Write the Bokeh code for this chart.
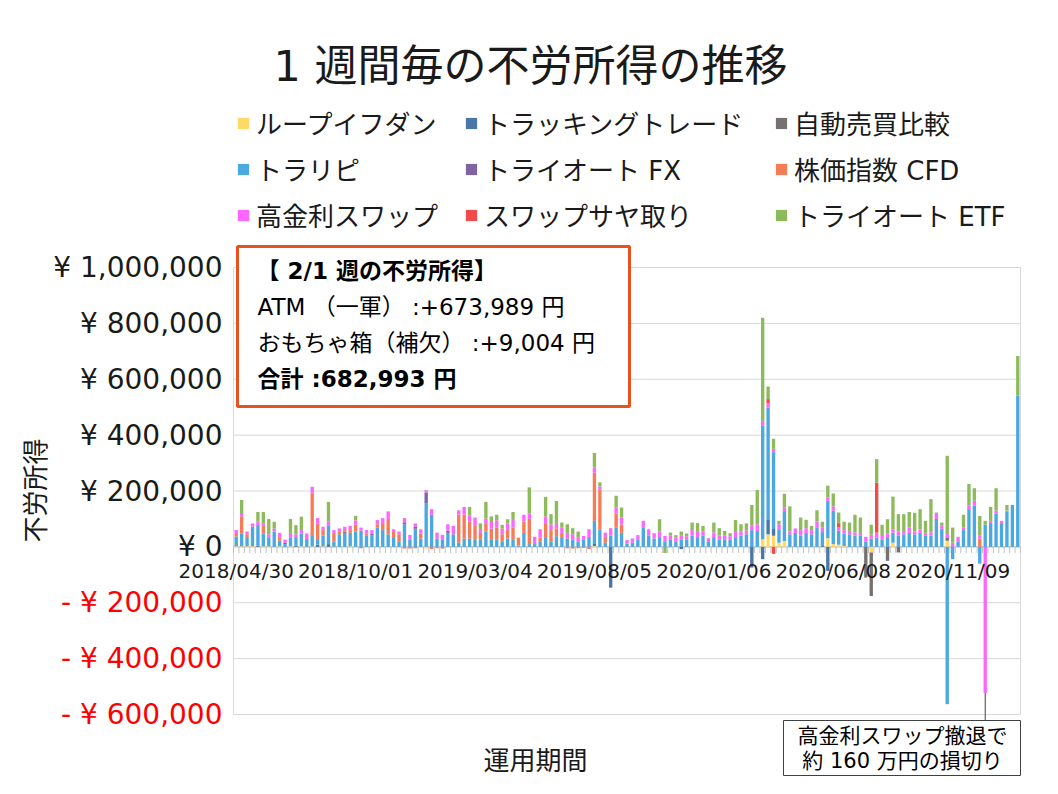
import numpy as np
from bokeh.plotting import figure
from bokeh.models import (ColumnDataSource, Range1d, Legend, LegendItem,
                          Label, BoxAnnotation, Arrow)
from bokeh.embed import file_html
from bokeh.resources import INLINE

# ---------------- data (weekly income, thousand yen) ----------------
week_tick_idx = [0, 22, 44, 66, 88, 110, 132]
week_tick_labels = ["2018/04/30", "2018/10/01", "2019/03/04", "2019/08/05",
                    "2020/01/06", "2020/06/08", "2020/11/09"]

loop_ifdone = [
    2, 2, 2, 2, 0, 2, 2, 0, 2, 0,
    2, 0, 2, 0, 2, 0, 2, 0, -4, 0,
    0, 2, 0, 0, 0, 0, 0, 0, 0, 0,
    0, 0, 0, 0, 0, -6, 0, 0, 0, 0,
    0, 0, 0, 0, 0, 0, 0, 0, 0, 0,
    0, 0, 0, 0, 0, 0, 0, 0, 0, 0,
    0, 0, 0, 0, 0, 0, 3, 0, 0, 0,
    0, 0, 0, 0, 0, 0, 0, 0, 0, 0,
    0, 0, 0, 0, 0, 0, 0, 0, 0, 0,
    0, 0, 0, 0, 0, 0, 0, 27, 45, 40,
    15, 21, 0, 0, 0, 0, 0, 0, 0, 31,
    10, 8, 3, 0, 0, 0, 0, -20, 0, 0,
    0, 15, 0, 0, 0, 0, 0, 0, 0, 0,
    0, 22, 0, 0, 0, 0, 0, 0, 0, 0,
    0, 0, 0, 0, 0]

tracking = [
    0, 0, 0, 0, 5, 0, 0, 0, 0, 0,
    0, 5, 0, 0, 0, 8, 0, 10, 0, 0,
    0, 0, 0, 0, 0, 0, 0, 0, 0, 0,
    0, 0, 0, 0, 0, 0, 0, 0, 0, 0,
    0, 0, 0, 0, 0, 0, 0, 0, 0, 0,
    0, 0, 0, 0, 0, 0, 0, 0, 0, 0,
    0, 0, 0, 0, 0, 0, 10, 0, 0, -146,
    0, 0, 0, 0, 0, 0, 0, 0, 0, 0,
    0, 0, -8, 0, 0, 0, 0, 0, 0, 0,
    0, 0, 0, 0, 0, -74, 0, -44, 54, 24,
    0, 0, 0, 0, 0, 0, 0, 0, 0, -86,
    0, 0, 0, 0, 0, 0, 0, 0, 0, 0,
    0, 0, 0, 0, 0, 0, 0, 0, 0, 0,
    0, 0, 0, 0, 0, 0, 0, 0, 0, 0,
    0, 0, 0, 0, 0]

jidou_hikaku = [
    0, 0, 0, 0, 0, 0, 0, 0, 0, 0,
    0, 0, 0, 0, 0, 0, 0, 0, 0, 0,
    0, 0, 0, 0, 0, 0, 0, 0, 0, 0,
    0, 0, 0, 0, 0, 0, 0, 0, 0, 0,
    0, 0, 0, 0, 0, 0, 0, 0, 0, 0,
    0, 0, 0, 0, 0, 0, 0, 0, 0, 0,
    0, 0, 0, 0, 0, 0, 0, 0, 0, 0,
    0, 0, 0, 0, 0, 0, 0, 0, 0, 0,
    0, 0, 0, 0, 0, 0, 0, 0, 0, 0,
    0, 0, 0, 0, 0, 0, 0, 0, 0, 0,
    0, 0, 0, 0, 0, 0, 0, 0, 3, 0,
    0, 0, 0, 0, 0, 0, -110, -156, 0, 0,
    -50, 0, -20, 0, 0, 0, 0, 0, 0, 0,
    0, 12, 0, 0, 0, 0, 0, 0, 0, 0,
    0, 0, 0, 0, 0]

toraripi = [
    35, 45, 30, 70, 73, 45, 30, 55, 20, 10,
    30, 30, 45, 28, 40, 20, 38, 65, 20, 45,
    50, 48, 55, 58, 40, 42, 70, 60, 45, 35,
    20, 80, 25, 65, 30, 155, 115, 30, 25, 50,
    45, 15, 30, 30, 25, 25, 55, 25, 25, 20,
    30, 25, 5, 50, 10, 10, 20, 35, 20, 38,
    35, 30, 25, 20, 25, 35, 80, 63, 15, 40,
    70, 50, 12, 15, 25, 70, 40, 30, 35, 20,
    25, 20, 25, 25, 40, 35, 40, 18, 35, 25,
    25, 25, 35, 40, 45, 60, 57, 406, 400, 275,
    48, 107, 45, 50, 40, 50, 45, 70, 50, 134,
    120, 50, 45, 45, 40, 40, 20, 30, 33, 25,
    35, 36, 40, 45, 50, 45, 50, 40, 40, 100,
    65, -563, -44, 20, 60, 135, 147, -60, 80, 85,
    120, 85, 125, 150, 541]

triauto_fx = [
    0, 0, 0, 0, 0, 0, 0, 0, 0, 4,
    0, 0, 0, 0, 0, 0, 0, 0, 0, 0,
    5, 0, 0, 0, 0, 5, 0, 0, 0, 0,
    0, 8, 0, 8, 0, 40, 0, 0, 0, 8,
    0, 0, 0, 0, 0, 0, 0, 0, 0, 0,
    0, 0, 0, 0, 0, 0, 0, 0, 0, 0,
    0, 0, 0, 0, 0, 0, 0, 0, 0, 0,
    0, 0, 0, 0, 0, 0, 0, 0, 0, 0,
    0, 0, 0, 0, 0, 0, 0, 0, 0, 0,
    0, 0, 0, 0, 0, 0, 0, 0, 0, 0,
    0, 0, 0, 0, 0, 0, 0, 0, 0, 0,
    0, 0, 0, 0, 0, 0, 0, 0, 0, 0,
    0, 0, 0, 0, 0, 0, 0, 0, 0, 0,
    0, 0, 0, 0, 0, 0, 0, 0, 0, 0,
    0, 0, 0, 0, 0]

kabuka_cfd = [
    13, 63, 13, 0, 0, 28, 0, 0, 10, 0,
    0, 0, 0, 0, 150, 55, 20, 0, 30, 9,
    5, 10, 25, -5, 8, 0, 11, 25, 55, 18,
    25, -6, -6, -5, 18, 0, -8, -5, -6, 0,
    0, 100, 85, 60, 50, 25, 30, 40, 45, 25,
    30, 45, 28, 40, 90, 0, 13, 50, 40, 28,
    15, -5, -6, -5, -4, -8, 173, 140, 20, 0,
    50, 30, 0, 0, 0, 0, 0, 0, 0, 0,
    0, 0, 0, 0, 0, 0, 0, 0, 0, 0,
    0, 0, 0, 0, 0, 0, 0, 0, 0, 0,
    0, 0, 0, 0, 0, 0, 0, 0, 0, 0,
    0, 0, 0, 0, 0, 0, 0, 0, 0, 0,
    0, 0, 0, 0, 0, 0, 0, 0, 0, 0,
    0, 0, 0, 0, 0, 0, 0, 30, 0, 0,
    0, 0, 0, 0, 0]

swap = [
    10, 8, 10, 12, 12, 10, 13, 10, 18, 12,
    18, 10, 13, 20, 23, 20, 12, 15, 10, 12,
    12, 15, 15, 11, 12, 13, 15, 18, 27, 10,
    10, 15, 18, 11, 15, 8, 20, 21, 18, 23,
    30, 16, 28, 23, 30, 14, 16, 24, 25, 20,
    24, 30, 0, 25, 20, 26, 30, 24, 20, 20,
    20, 20, 20, 15, 14, 28, 18, 13, 16, 27,
    20, 25, 12, 15, 17, 23, 23, 19, 20, 19,
    16, 15, 15, 13, 20, 22, 15, 13, 17, 15,
    15, 13, 18, 16, 14, 18, 24, 18, 15, 12,
    18, 14, 10, 16, 20, 17, 15, 20, 17, 12,
    15, 12, 12, 12, 12, 10, 16, 14, 18, 14,
    14, 12, 15, 12, 20, 10, 12, 10, 12, 18,
    12, 12, 15, 16, 10, 14, 18, 10, -523, 8,
    10, 8, 5, 0, 0]

swap_sayatori = [
    0, 0, 0, 0, 0, 0, 0, 0, 0, 0,
    0, 0, 0, 0, 0, 0, 0, 0, 0, 0,
    0, 0, 0, 0, 0, 0, 0, 0, 0, 0,
    0, 0, 0, 0, 0, 0, 0, 0, 0, 0,
    0, 0, 0, 0, 0, 0, 0, 0, 0, 0,
    0, 0, 0, 0, 0, 0, 0, 0, 0, 0,
    0, 0, 0, 0, 0, 0, 0, 0, 0, 0,
    0, 0, 0, 0, 0, 0, 0, 0, 0, 0,
    0, 0, 0, 0, 0, 0, 0, 0, 0, 0,
    0, 0, 0, 0, 0, 0, 0, 0, 15, -25,
    0, 0, 0, 0, 0, 0, 0, 0, 0, 0,
    0, 15, 0, 0, 0, 0, 0, 0, 179, 0,
    0, 0, 0, 0, 0, 0, 0, 0, 0, 0,
    0, 0, 0, 0, 0, 0, 0, 0, 0, 0,
    0, 0, 0, 0, 0]

triauto_etf = [
    0, 50, 0, 0, 35, 40, 55, 25, 0, 0,
    50, 33, 48, 0, 0, 0, 0, 71, 0, 0,
    0, 0, 16, 0, 0, 0, 0, 0, 0, 0,
    0, 0, 0, 0, 0, 0, 0, 0, 0, 0,
    0, 0, 0, 30, 0, 20, 60, 20, 20, 14,
    15, 25, 0, 0, 93, 0, 0, 70, 37, 78,
    17, 31, 22, 20, 0, 0, 52, 15, 0, 0,
    43, 36, 0, 0, 0, 0, 0, 0, 44, -22,
    10, 7, 15, 10, 27, 28, 20, 0, 35, 27,
    17, 11, 43, 25, 25, 72, 123, 369, 45, 36,
    12, 48, 90, 0, 45, 30, 15, 41, 20, 42,
    46, 38, 30, 30, 63, 55, 0, 35, 84, 40,
    50, 117, 62, 60, 55, 67, 73, 43, 119, 5,
    10, 280, 54, 0, 45, 76, 45, 71, 13, 50,
    80, 0, 20, 0, 142]

series_names = ["ループイフダン", "トラッキングトレード", "自動売買比較",
                "トラリピ", "トライオート FX", "株価指数 CFD",
                "高金利スワップ", "スワップサヤ取り", "トライオート ETF"]
series_values = [loop_ifdone, tracking, jidou_hikaku, toraripi, triauto_fx,
                 kabuka_cfd, swap, swap_sayatori, triauto_etf]
series_colors = ["#FFD966", "#4A76A8", "#767171", "#4BA8E0", "#8064A2",
                 "#F57C56", "#FF66FF", "#F24A4A", "#8DBB5B"]

yticks = [-600000, -400000, -200000, 0, 200000, 400000, 600000, 800000, 1000000]
ytick_labels = ["- ¥ 600,000", "- ¥ 400,000", "- ¥ 200,000", "¥ 0", "¥ 200,000",
                "¥ 400,000", "¥ 600,000", "¥ 800,000", "¥ 1,000,000"]

N = len(toraripi)
for s in series_values:
    assert len(s) == N, len(s)

# ---------------- layout (picture pixels) ----------------
W, H = 1050, 790
PX0, PX1, PY0, PY1 = 233.0, 1020.0, 267.0, 714.0   # plot area
YMIN, YMAX = -600000, 1000000
KX = (PX1 - PX0) / N                    # px per category
KY = (PY1 - PY0) / (YMAX - YMIN)        # px per yen
X_START = -0.5 - PX0 / KX
Y_END = YMAX + PY0 / KY


def px2x(px):
    return X_START + px / KX


def px2y(py):
    return Y_END - py / KY


JP = "Noto Sans CJK JP"
MIX = "DejaVu Sans, Noto Sans CJK JP"
LAT = "DejaVu Sans"
TXT = "#1A1A1A"

data = {"x": list(range(N))}
pos_keys, neg_keys = [], []
for k, vals in enumerate(series_values):
    arr = np.array(vals, dtype=float) * 1000.0
    data[f"p{k}"] = np.clip(arr, 0, None)
    data[f"n{k}"] = np.clip(arr, None, 0)
    pos_keys.append(f"p{k}")
    neg_keys.append(f"n{k}")
src = ColumnDataSource(data)

p = figure(width=W, height=H, output_backend="svg", toolbar_location=None,
           x_range=Range1d(X_START, X_START + W / KX),
           y_range=Range1d(Y_END - H / KY, Y_END),
           min_border=0)
p.background_fill_color = "white"
p.border_fill_color = "white"
p.outline_line_color = None
p.axis.visible = False
p.grid.visible = False

# plot area: gridlines and borders
p.segment(x0=np.full(len(yticks), -0.5), x1=np.full(len(yticks), N - 0.5),
          y0=yticks, y1=yticks, line_color="#D9D9D9", line_width=1)
p.segment(x0=[-0.5, N - 0.5], x1=[-0.5, N - 0.5], y0=[YMIN, YMIN], y1=[YMAX, YMAX],
          line_color="#D9D9D9", line_width=1)
# category axis at zero with tick marks
tick_x = np.arange(N + 1) - 0.5
p.segment(x0=tick_x, y0=np.zeros(N + 1), x1=tick_x, y1=np.full(N + 1, -22000.0),
          line_color="#BFBFBF", line_width=1)
p.segment(x0=[-0.5], x1=[N - 0.5], y0=[0], y1=[0], line_color="#BFBFBF", line_width=1)

pos_r = p.vbar_stack(pos_keys, x="x", width=0.62, source=src,
                     fill_color=series_colors, line_color=None)
neg_r = p.vbar_stack(neg_keys, x="x", width=0.62, source=src,
                     fill_color=series_colors, line_color=None)

# y tick labels
for t, l in zip(yticks, ytick_labels):
    p.add_layout(Label(x=-0.5, y=t, x_offset=-11, text=l, text_align="right",
                       text_baseline="middle", text_font=LAT, text_font_size="28px",
                       text_color="#FF0000" if t < 0 else TXT))

# x tick labels just under the zero line
for i, l in zip(week_tick_idx, week_tick_labels):
    p.add_layout(Label(x=i, y=0, y_offset=-24, text=l, text_align="center",
                       text_baseline="middle", text_font=LAT, text_font_size="20px",
                       text_color=TXT))

# legends: three columns
cols = [([0, 3, 6], 236), ([1, 4, 7], 464), ([2, 5, 8], 774)]
for idx, gx in cols:
    items = [LegendItem(label=series_names[i], renderers=[pos_r[i]]) for i in idx]
    lg = Legend(items=items, location=(gx, H - 233),
                orientation="vertical", label_text_font=MIX, label_text_font_size="26px",
                label_text_color=TXT, glyph_width=14, glyph_height=14,
                label_standoff=6, spacing=9, label_height=36, padding=0, margin=0,
                border_line_color=None, background_fill_alpha=0)
    p.add_layout(lg)

# title
p.add_layout(Label(x=px2x(530), y=px2y(65), text="1 週間毎の不労所得の推移",
                   text_align="center", text_baseline="middle", text_font=MIX,
                   text_font_size="43px", text_color=TXT))
# axis titles
p.add_layout(Label(x=px2x(33), y=px2y(490), angle=np.pi / 2,
                   text="不労所得", text_align="center", text_baseline="middle",
                   text_font=JP, text_font_size="26px", text_color=TXT))
p.add_layout(Label(x=px2x(535), y=px2y(758),
                   text="運用期間", text_align="center", text_baseline="middle",
                   text_font=JP, text_font_size="26px", text_color=TXT))

# summary box
p.add_layout(BoxAnnotation(left=px2x(237), right=px2x(629), top=px2y(246), bottom=px2y(406),
                           fill_color="white", fill_alpha=1.0, line_color="#E8521E",
                           line_alpha=1.0, line_width=3))
box_lines = [("【 2/1 週の不労所得】", "bold", 256, 270),
             ("ATM （一軍） :+673,989 円", "normal", 257, 306),
             ("おもちゃ箱（補欠） :+9,004 円", "normal", 257, 342),
             ("合計 :682,993 円", "bold", 257, 378)]
for txt, style, bx, by in box_lines:
    p.add_layout(Label(x=px2x(bx), y=px2y(by), text=txt, text_align="left",
                       text_baseline="middle", text_font=MIX, text_font_size="23px",
                       text_font_style=style, text_color="#000000"))

# callout for the swap exit
p.add_layout(Arrow(end=None, x_start=138, y_start=px2y(720), x_end=138,
                   y_end=swap[138] * 1000.0, line_color="#404040", line_width=1))
p.add_layout(BoxAnnotation(left=px2x(783), right=px2x(1020), top=px2y(720), bottom=px2y(775),
                           fill_color="white", fill_alpha=1.0, line_color="#404040",
                           line_alpha=1.0, line_width=1))
p.add_layout(Label(x=px2x(902), y=px2y(735), text="高金利スワップ撤退で", text_align="center",
                   text_baseline="middle", text_font=MIX, text_font_size="21px",
                   text_color="#000000"))
p.add_layout(Label(x=px2x(902), y=px2y(760), text="約 160 万円の損切り", text_align="center",
                   text_baseline="middle", text_font=MIX, text_font_size="21px",
                   text_color="#000000"))

open("out.html", "w").write(file_html(p, INLINE))
